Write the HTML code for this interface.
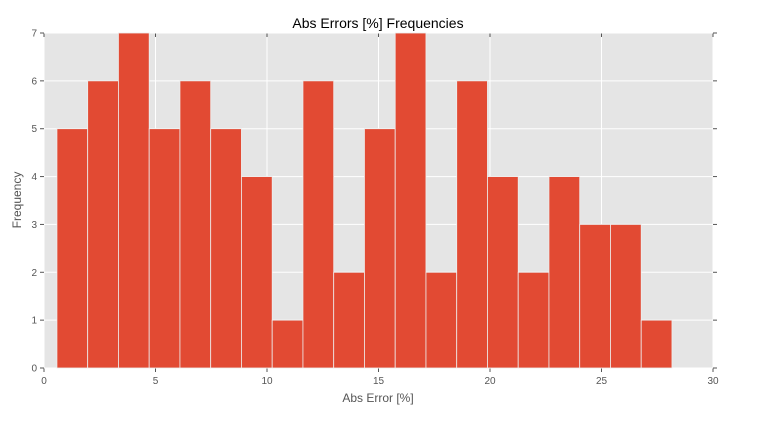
<!DOCTYPE html>
<html><head><meta charset="utf-8"><style>
body{margin:0;background:#fff;}
svg{display:block;font-family:"Liberation Sans",sans-serif;}
</style></head><body>
<svg id="c" width="768" height="423"></svg>
<script>
const counts=[5,6,7,5,6,5,4,1,6,2,5,7,2,6,4,2,4,3,3,1];
const binStart=0.58;
const binWidth=1.379;
const xTicks=[0,5,10,15,20,25,30];
const yTicks=[0,1,2,3,4,5,6,7];
const L=44,R=713,T=33,B=368;
const sx=v=>L+(v-0)/(30-0)*(R-L);
const sy=v=>B-(v/7)*(B-T);
const svg=document.getElementById('c');
const NS='http://www.w3.org/2000/svg';
function mk(tag,attrs,parent){const e=document.createElementNS(NS,tag);for(const k in attrs)e.setAttribute(k,attrs[k]);(parent||svg).appendChild(e);return e;}
const bg=mk('rect',{x:L,y:T,width:R-L,height:B-T,fill:'#e5e5e5'});


xTicks.forEach(t=>{
 const g=mk('line',{x1:sx(t),x2:sx(t),y1:T,y2:B,stroke:'#fff','stroke-width':1});
 
 
 mk('line',{x1:sx(t),x2:sx(t),y1:B,y2:B+4,stroke:'#555'});
 mk('line',{x1:sx(t),x2:sx(t),y1:T,y2:T+4,stroke:'#555'});
 const tx=mk('text',{x:sx(t),y:B+16,'text-anchor':'middle','font-size':10,fill:'#555'});
 tx.textContent=t;
 
 
});
yTicks.forEach(t=>{
 const g=mk('line',{x1:L,x2:R,y1:sy(t),y2:sy(t),stroke:'#fff','stroke-width':1});
 
 
 mk('line',{x1:L-4,x2:L,y1:sy(t),y2:sy(t),stroke:'#555'});
 mk('line',{x1:R,x2:R+4,y1:sy(t),y2:sy(t),stroke:'#555'});
 const tx=mk('text',{x:L-7,y:sy(t)+3.5,'text-anchor':'end','font-size':10,fill:'#555'});
 tx.textContent=t;
 
 
});
counts.forEach((c,i)=>{
 const x0=sx(binStart+i*binWidth),x1=sx(binStart+(i+1)*binWidth);
 const r=mk('rect',{x:x0,y:sy(c),width:x1-x0,height:sy(0)-sy(c),fill:'#e24a33',stroke:'#eeeeee','stroke-width':0.8});
 
 
});
const ti=mk('text',{x:378,y:28,'text-anchor':'middle','font-size':14,fill:'#000'});
ti.textContent='Abs Errors [%] Frequencies';


const xl=mk('text',{x:378,y:402,'text-anchor':'middle','font-size':12,fill:'#555'});
xl.textContent='Abs Error [%]';


const yl=mk('text',{x:21,y:200,'text-anchor':'middle','font-size':12,fill:'#555',transform:'rotate(-90 21 200)'});
yl.textContent='Frequency';


</script>
</body></html>
